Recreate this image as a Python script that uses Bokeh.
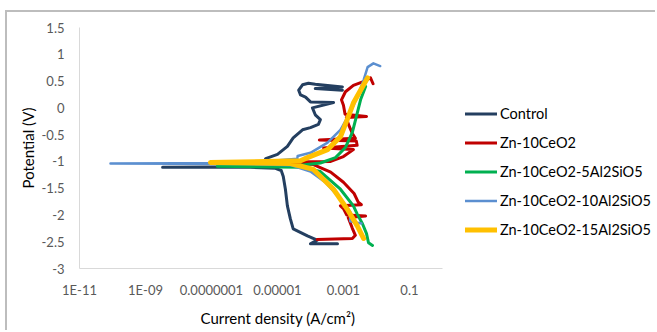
from bokeh.plotting import figure
from bokeh.models import Legend, LegendItem, FixedTicker, Range1d, CustomJSTickFormatter, Title
from bokeh.embed import file_html
from bokeh.resources import INLINE

# ---- data (current density A/cm2, potential V) ----
control_i = [6.6e-4, 1.0e-4, 1.6e-4, 8.1e-5, 3.0e-5, 2.45e-5, 2.0e-5, 1.74e-5, 1.5e-5, 1.3e-5,
             8.7e-6, 1.5e-6, 3.3e-9, 3.2e-6, 4.4e-6, 1.0e-5, 2.0e-5, 3.0e-5, 5.75e-5, 1.0e-4,
             1.74e-4, 2.0e-4, 1.4e-4, 1.15e-4, 5.0e-4, 1.0e-4, 7.1e-5, 5.0e-5, 4.4e-5, 5.75e-5,
             8.7e-5, 1.4e-4, 9.3e-4, 1.4e-4, 9.3e-4]
control_e = [-2.54, -2.54, -2.47, -2.39, -2.26, -2.07, -1.83, -1.52, -1.28, -1.17,
             -1.13, -1.11, -1.11, -1.10, -0.95, -0.87, -0.72, -0.56, -0.41, -0.37,
             -0.31, -0.22, -0.13, 0.0, 0.10, 0.11, 0.20, 0.24, 0.33, 0.43,
             0.46, 0.44, 0.39, 0.36, 0.33]

ceo2_i = [1.6e-4, 1.86e-3, 2.3e-3, 1.86e-3, 1.4e-3, 4.7e-3, 1.26e-3, 1.0e-3, 8.1e-4, 3.5e-3,
          2.8e-3, 2.1e-3, 1.0e-3, 4.1e-4, 1.23e-4, 3.2e-5, 3.2e-7, 3.2e-5, 4.1e-4, 1.0e-3,
          2.0e-3, 2.5e-4, 2.6e-3, 2.45e-3, 1.86e-4, 2.3e-3, 1.86e-3, 1.4e-3, 1.23e-3, 5.0e-3,
          1.12e-3, 1.0e-3, 8.7e-4, 1.15e-3, 2.0e-3, 4.4e-3, 6.6e-3, 7.9e-3]
ceo2_e = [-2.46, -2.44, -2.38, -2.25, -2.05, -2.02, -2.00, -1.88, -1.83, -1.81,
          -1.76, -1.60, -1.39, -1.20, -1.06, -1.03, -1.02, -1.01, -1.00, -0.91,
          -0.78, -0.75, -0.70, -0.62, -0.60, -0.57, -0.48, -0.30, -0.18, -0.16,
          -0.12, 0.05, 0.15, 0.30, 0.42, 0.50, 0.56, 0.45]

al5_i = [7.6e-3, 5.75e-3, 5.0e-3, 3.8e-3, 2.6e-3, 2.0e-3, 8.1e-4, 2.0e-4, 5.0e-5, 1.5e-7,
         5.0e-5, 2.0e-4, 5.75e-4, 1.15e-3, 1.86e-3, 2.45e-3, 3.3e-3, 4.7e-3]
al5_e = [-2.57, -2.52, -2.35, -2.17, -1.98, -1.83, -1.52, -1.19, -1.11, -1.09,
         -1.07, -1.03, -0.93, -0.74, -0.46, -0.17, 0.15, 0.40]

al10_i = [3.5e-3, 1.6e-3, 1.6e-3, 8.1e-4, 2.8e-4, 1.0e-4, 2.5e-5, 1.0e-6, 8.7e-11, 1.0e-6,
          4.0e-5, 4.1e-5, 1.0e-4, 3.3e-4, 8.1e-4, 1.6e-3, 2.6e-3, 4.1e-3, 5.4e-3, 8.1e-3, 1.3e-2]
al10_e = [-2.16, -2.12, -1.94, -1.70, -1.39, -1.19, -1.07, -1.05, -1.04, -1.03,
          -0.95, -0.90, -0.84, -0.65, -0.41, -0.09, 0.20, 0.52, 0.76, 0.83, 0.78]

al15_i = [4.1e-3, 2.6e-3, 1.3e-3, 5.0e-4, 1.23e-4, 2.5e-5, 9.3e-8, 5.0e-5, 8.1e-5, 3.3e-4,
          8.1e-4, 1.3e-3, 2.0e-3, 3.3e-3, 5.4e-3]
al15_e = [-2.44, -2.20, -1.89, -1.52, -1.15, -1.04, -1.02, -0.99, -0.93, -0.78,
          -0.54, -0.22, 0.09, 0.33, 0.56]

series_names = ["Control", "Zn-10CeO2", "Zn-10CeO2-5Al2SiO5", "Zn-10CeO2-10Al2SiO5", "Zn-10CeO2-15Al2SiO5"]
series_colors = ["#243f60", "#c00000", "#00b050", "#5b8fd0", "#ffc000"]
series_widths = [3, 3, 3, 2.5, 5]

x_ticks = [1e-11, 1e-9, 1e-7, 1e-5, 1e-3, 1e-1]
x_labels = ["1E-11", "1E-09", "0.0000001", "0.00001", "0.001", "0.1"]
x_axis_min, x_axis_max = 1e-11, 1.0
y_ticks = [1.5, 1.0, 0.5, 0.0, -0.5, -1.0, -1.5, -2.0, -2.5, -3.0]
y_labels = ["1.5", "1", "0.5", "0", "-0.5", "-1", "-1.5", "-2", "-2.5", "-3"]

FONT = "Lato"

# frame extends to the right edge so the legend sits inside it; axis line bounded to the data axis
p = figure(width=650, height=320, x_axis_type="log",
           x_range=Range1d(x_axis_min, 3.3e6), y_range=Range1d(-3, 1.5),
           output_backend="svg", toolbar_location=None,
           min_border_left=72, min_border_right=0, min_border_top=15, min_border_bottom=62)
p.styles = {"margin-left": "5px", "margin-top": "10px",
            "border-left": "2px solid #bdbdbd", "border-top": "2px solid #bdbdbd"}
p.outline_line_color = None
p.xgrid.visible = False
p.ygrid.visible = False
p.background_fill_color = "white"
p.border_fill_color = "white"

xs = [control_i, ceo2_i, al5_i, al10_i, al15_i]
ys = [control_e, ceo2_e, al5_e, al10_e, al15_e]
renderers = []
for xi, yi, c, w in zip(xs, ys, series_colors, series_widths):
    r = p.line(xi, yi, line_color=c, line_width=w, line_join="round", line_cap="round")
    renderers.append(r)

for ax in (p.xaxis[0], p.yaxis[0]):
    ax.axis_line_color = "#d9d9d9"
    ax.axis_line_width = 1
    ax.major_tick_line_color = None
    ax.minor_tick_line_color = None
    ax.major_tick_out = 0
    ax.major_tick_in = 0
    ax.minor_tick_out = 0
    ax.major_label_text_font = FONT
    ax.major_label_text_font_size = "13px"
    ax.major_label_text_color = "#595959"
    ax.axis_label_text_font = FONT
    ax.axis_label_text_font_size = "15px"
    ax.axis_label_text_font_style = "normal"
    ax.axis_label_text_color = "#000000"

p.xaxis[0].bounds = (x_axis_min, x_axis_max)
p.xaxis[0].ticker = FixedTicker(ticks=x_ticks)
p.xaxis[0].formatter = CustomJSTickFormatter(args=dict(tv=x_ticks, lab=x_labels), code="""
const l = Math.log10(tick);
for (let k = 0; k < tv.length; k++) { if (Math.abs(Math.log10(tv[k]) - l) < 1e-6) return lab[k]; }
return "";
""")
p.yaxis[0].ticker = FixedTicker(ticks=y_ticks)
p.yaxis[0].formatter = CustomJSTickFormatter(args=dict(tv=y_ticks, lab=y_labels), code="""
for (let k = 0; k < tv.length; k++) { if (Math.abs(tv[k] - tick) < 1e-6) return lab[k]; }
return "";
""")
p.xaxis[0].major_label_standoff = 13
p.yaxis[0].major_label_standoff = 15
p.yaxis[0].axis_label = "Potential (V)"
p.yaxis[0].axis_label_standoff = 2

xtitle = Title(text="Current density (A/cm\u00b2)", align="left", offset=121, standoff=12,
               text_font=FONT, text_font_size="15px", text_font_style="normal", text_color="#000000")
p.add_layout(xtitle, "below")

legend = Legend(items=[LegendItem(label=n, renderers=[r]) for n, r in zip(series_names, renderers)],
                location=(386, 29))
legend.padding = 0
legend.margin = 0
legend.border_line_color = None
legend.background_fill_alpha = 0
legend.glyph_width = 32
legend.glyph_height = 19
legend.label_height = 19
legend.spacing = 10
legend.label_standoff = 3
legend.label_text_font = FONT
legend.label_text_font_size = "14.5px"
legend.label_text_color = "#000000"
p.add_layout(legend)

open("out.html", "w").write(file_html(p, INLINE))
